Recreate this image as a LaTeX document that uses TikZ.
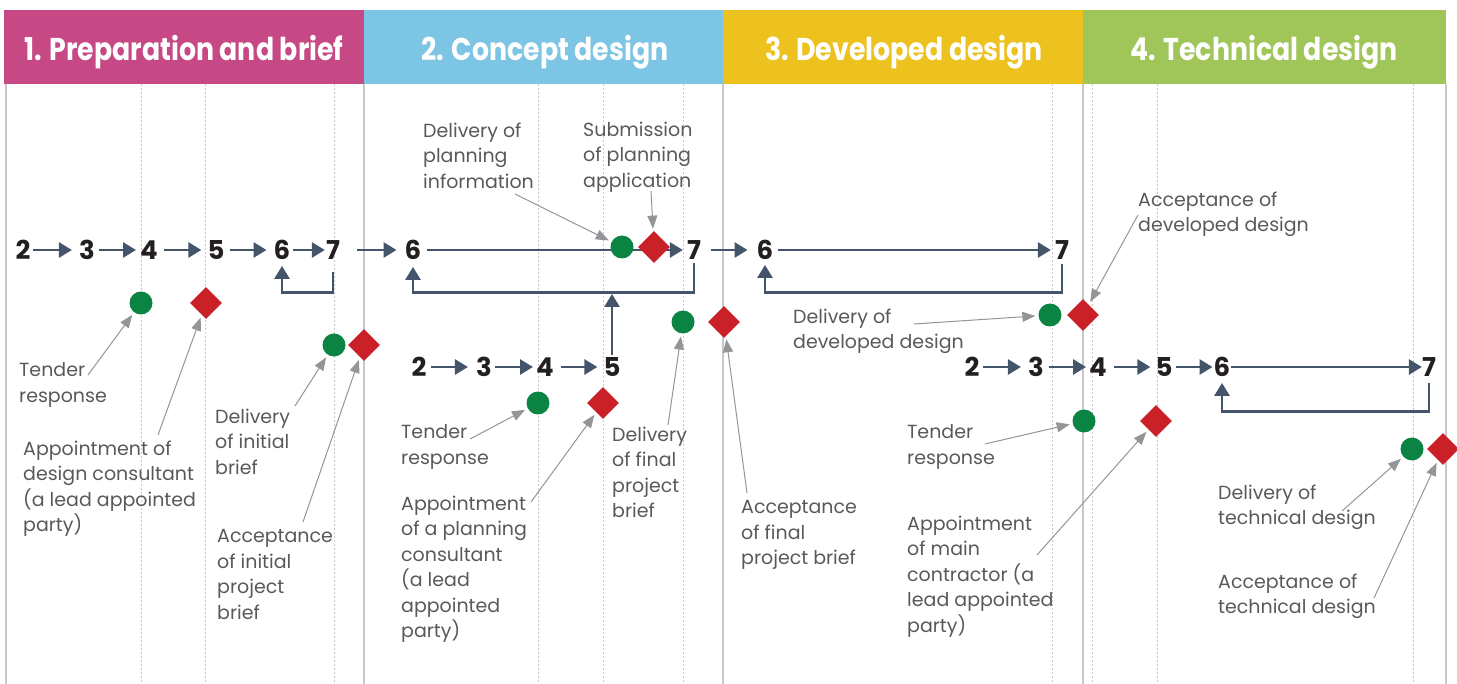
\documentclass[tikz,border=0pt]{standalone}
\usepackage{fontspec}
\setmainfont{Poppins}
\newfontfamily\headfont[FakeStretch=0.85]{Poppins}
\usetikzlibrary{arrows.meta,shapes.geometric,calc}
\definecolor{cpink}{HTML}{C64884}
\definecolor{cblue}{HTML}{7DC5E4}
\definecolor{cyellow}{HTML}{EDC21E}
\definecolor{cgreen}{HTML}{A0C65A}
\definecolor{slate}{HTML}{44546A}
\definecolor{dotgreen}{HTML}{0B8443}
\definecolor{dotred}{HTML}{C92127}
\definecolor{labgray}{HTML}{58595B}
\definecolor{arrgray}{HTML}{939598}
\definecolor{guide}{HTML}{C8C8C8}
\definecolor{numblack}{HTML}{231F20}
\tikzset{
  hdrbox/.style={inner sep=0pt, minimum height=74pt},
  hdrtext/.style={inner sep=0pt, anchor=base, text=white, font=\headfont\bfseries\fontsize{31.5}{32}\selectfont},
  num/.style={inner sep=0pt, text=numblack, font=\bfseries\fontsize{26}{26}\selectfont},
  parr/.style={draw=slate, line width=2.8pt, -{Triangle[length=13pt,width=15pt]}, shorten <=3pt, shorten >=5pt},
  ploop/.style={draw=slate, line width=2.8pt, -{Triangle[length=13pt,width=15pt]}},
  gdot/.style={circle, fill=dotgreen, minimum size=23pt, inner sep=0pt},
  rdia/.style={diamond, fill=dotred, minimum size=32pt, inner sep=0pt, aspect=1},
  lab/.style={anchor=north west, inner sep=0pt, align=left, text=labgray, font=\fontsize{19}{25.5}\selectfont},
  garr/.style={draw=arrgray, line width=1pt, -{Triangle[length=13pt,width=10pt]}, shorten >=3pt},
  solidguide/.style={draw=guide, line width=1.2pt},
  dotguide/.style={draw=guide, line width=0.8pt, dash pattern=on 2pt off 2pt}
}
\begin{document}
\begin{tikzpicture}[x=1pt,y=-1pt]
\useasboundingbox (0,0) rectangle (1457,684);
% guides
\foreach \gx in {141,205,334,538,603,683,1052,1092,1157,1413}
  \draw[dotguide] (\gx,84) -- (\gx,684);
\foreach \gx in {6,364,723,1083,1446}
  \draw[solidguide] (\gx,84) -- (\gx,684);
% headers
\node[hdrbox, fill=cpink, minimum width=360pt] (h1) at (184,47) {};
\node[hdrbox, fill=cblue, minimum width=359pt] (h2) at (543.5,47) {};
\node[hdrbox, fill=cyellow, minimum width=360pt] (h3) at (903,47) {};
\node[hdrbox, fill=cgreen, minimum width=363pt] (h4) at (1264.5,47) {};
\node[hdrtext] (t1) at (184,61) {1. Preparation and brief};
\node[hdrtext] (t2) at (545,61) {2. Concept design};
\node[hdrtext] (t3) at (904,61) {3. Developed design};
\node[hdrtext] (t4) at (1264,61) {4. Technical design};
% numbers row 1
\node[num] (s1n2) at (23,250) {2};
\node[num] (s1n3) at (87,250) {3};
\node[num] (s1n4) at (149,250) {4};
\node[num] (s1n5) at (216,250) {5};
\node[num] (s1n6) at (282,250) {6};
\node[num] (s1n7) at (333,250) {7};
\node[num] (s2n6) at (413,250) {6};
\node[num] (s2n7) at (694,250) {7};
\node[num] (s3n6) at (765,250) {6};
\node[num] (s3n7) at (1062,250) {7};
% numbers row 2
\node[num] (s2b2) at (419,367) {2};
\node[num] (s2b3) at (484,367) {3};
\node[num] (s2b4) at (545,367) {4};
\node[num] (s2b5) at (612,367) {5};
\node[num] (s4n2) at (972,367) {2};
\node[num] (s4n3) at (1036,367) {3};
\node[num] (s4n4) at (1098,367) {4};
\node[num] (s4n5) at (1164,367) {5};
\node[num] (s4n6) at (1222,367) {6};
\node[num] (s4n7) at (1429,367) {7};
% process arrows
\draw[parr, shorten <=2pt, shorten >=7pt] (s1n2) -- (s1n3);
\draw[parr, shorten <=4pt, shorten >=4pt] (s1n3) -- (s1n4);
\draw[parr, shorten <=6pt, shorten >=6pt] (s1n4) -- (s1n5);
\draw[parr, shorten <=5pt, shorten >=7pt] (s1n5) -- (s1n6);
\draw[parr, shorten <=3pt, shorten >=1pt] (s1n6) -- (s1n7);
\draw[parr, shorten <=17pt, shorten >=8pt] (s1n7) -- (s2n6);
\draw[parr, shorten <=6pt, shorten >=4pt] (s2n6) -- (s2n7);
\draw[parr, shorten <=10pt, shorten >=9pt] (s2n7) -- (s3n6);
\draw[parr, shorten <=5pt, shorten >=4pt] (s3n6) -- (s3n7);
\draw[parr, shorten <=4pt, shorten >=8pt] (s2b2) -- (s2b3);
\draw[parr, shorten <=3pt, shorten >=3pt] (s2b3) -- (s2b4);
\draw[parr, shorten <=7pt, shorten >=6pt] (s2b4) -- (s2b5);
\draw[parr, shorten <=3pt, shorten >=7pt] (s4n2) -- (s4n3);
\draw[parr, shorten <=5pt, shorten >=3pt] (s4n3) -- (s4n4);
\draw[parr, shorten <=7pt, shorten >=5pt] (s4n4) -- (s4n5);
\draw[parr, shorten <=3pt, shorten >=1pt] (s4n5) -- (s4n6);
\draw[parr, shorten <=1pt, shorten >=0pt] (s4n6) -- (s4n7);
% loops
\draw[ploop, shorten <=12pt, shorten >=6pt] (s1n7.south) -- ++(0,33) -| (s1n6.south);
\draw[ploop, shorten <=3pt, shorten >=7pt] (s2n7.south) -- ++(0,33) -| (s2n6.south);
\draw[ploop, shorten <=4pt, shorten >=5pt] (s3n7.south) -- ++(0,33) -| (s3n6.south);
\draw[ploop, shorten <=6pt, shorten >=6pt] (s4n7.south) -- ++(0,35) -| (s4n6.south);
\coordinate (L2) at (612,294);
\draw[ploop, shorten <=2pt] (s2b5) -- (L2);
% milestones
\node[gdot] (g1) at (141,303) {};
\node[rdia] (r1) at (206,303) {};
\node[gdot] (g2) at (334,345) {};
\node[rdia] (r2) at (364,345) {};
\node[gdot] (g3) at (622,247) {};
\node[rdia] (r3) at (654,247) {};
\node[gdot] (g4) at (538,403) {};
\node[rdia] (r4) at (603,403) {};
\node[gdot] (g5) at (683,322) {};
\node[rdia] (r5) at (724,322) {};
\node[gdot] (g6) at (1050,315) {};
\node[rdia] (r6) at (1083,315) {};
\node[gdot] (g7) at (1084,421) {};
\node[rdia] (r7) at (1156,421) {};
\node[gdot] (g8) at (1412,449) {};
\node[rdia] (r8) at (1443,449) {};
% labels
\node[lab] (T1) at (19,362.5) {Tender\\response};
\node[lab] (A1) at (23,440.5) {Appointment of\\design consultant\\(a lead appointed\\party)};
\node[lab] (D1) at (215,408.5) {Delivery\\of initial\\brief};
\node[lab] (C1) at (217,529.5) {Acceptance\\of initial\\project\\brief};
\node[lab] (DP) at (423,122.5) {Delivery of\\planning\\information};
\node[lab] (SP) at (583,121.5) {Submission\\of planning\\application};
\node[lab] (T2) at (401,424.5) {Tender\\response};
\node[lab] (A2) at (401,495.5) {Appointment\\of a planning\\consultant\\(a lead\\appointed\\party)};
\node[lab] (DF) at (612,426.5) {Delivery\\of final\\project\\brief};
\node[lab] (CF) at (741,500.5) {Acceptance\\of final\\project brief};
\node[lab] (DD) at (793,308.5) {Delivery of\\developed design};
\node[lab] (CD) at (1138,191.5) {Acceptance of\\developed design};
\node[lab] (T3) at (907,424.5) {Tender\\response};
\node[lab] (A3) at (907,515.5) {Appointment\\of main\\contractor (a\\lead appointed\\party)};
\node[lab] (DT) at (1218,484.5) {Delivery of\\technical design};
\node[lab] (CT) at (1218,573.5) {Acceptance of\\technical design};
% annotation start points
\coordinate (pT1) at (88,375);
\coordinate (pA1) at (158,435);
\coordinate (pD1) at (295,406);
\coordinate (pC1) at (303,522);
\coordinate (pDP) at (515,194);
\coordinate (pSP) at (651,191);
\coordinate (pT2) at (470,439);
\coordinate (pA2) at (531,502);
\coordinate (pDF) at (668,425);
\coordinate (pCF) at (747,493);
\coordinate (pDD) at (914,324);
\coordinate (pCD) at (1138,215);
\coordinate (pT3) at (985,444);
\coordinate (pA3) at (1037,555);
\coordinate (pDT) at (1342,511);
\coordinate (pCT) at (1374,598);
\draw[garr] (pT1) -- (g1);
\draw[garr] (pA1) -- (r1);
\draw[garr] (pD1) -- (g2);
\draw[garr] (pC1) -- (r2);
\draw[garr] (pDP) -- (g3);
\draw[garr] (pSP) -- (r3);
\draw[garr] (pT2) -- (g4);
\draw[garr] (pA2) -- (r4);
\draw[garr] (pDF) -- (g5);
\draw[garr] (pCF) -- (r5);
\draw[garr] (pDD) -- (g6);
\draw[garr] (pCD) -- (r6);
\draw[garr] (pT3) -- (g7);
\draw[garr] (pA3) -- (r7);
\draw[garr] (pDT) -- (g8);
\draw[garr] (pCT) -- (r8);
\end{tikzpicture}
\end{document}
